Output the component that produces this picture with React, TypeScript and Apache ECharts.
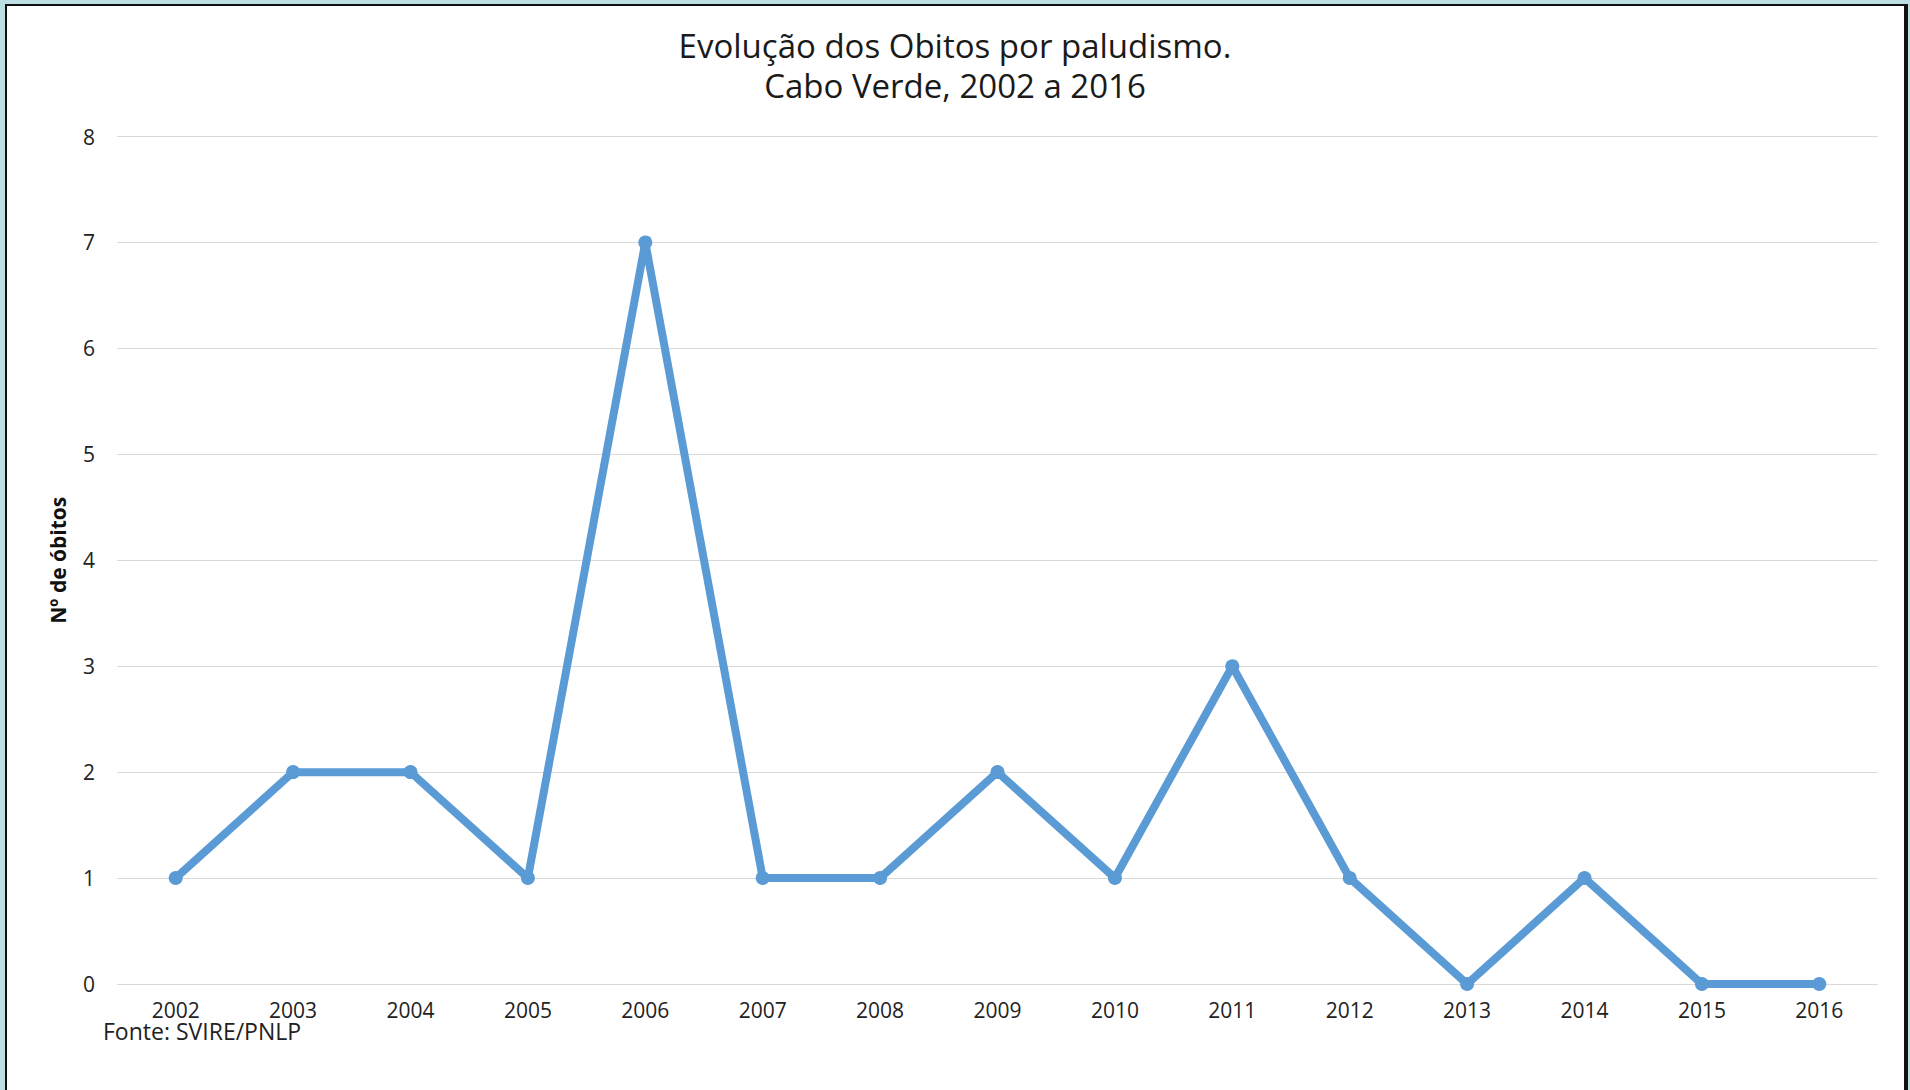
import React, { useEffect, useRef } from "react";
import * as echarts from "echarts";

// Malaria deaths in Cabo Verde, 2002–2016
const years = ["2002", "2003", "2004", "2005", "2006", "2007", "2008", "2009", "2010", "2011", "2012", "2013", "2014", "2015", "2016"];
const deaths = [1, 2, 2, 1, 7, 1, 1, 2, 1, 3, 1, 0, 1, 0, 0];

const titleLines = ["Evolução dos Obitos por paludismo.", "Cabo Verde, 2002 a 2016"];
const yAxisName = "Nº de óbitos";
const sourceNote = "Fonte: SVIRE/PNLP";

const FONT = "'Open Sans', 'Liberation Sans', sans-serif";

export default function App() {
  const ref = useRef<HTMLDivElement>(null);

  useEffect(() => {
    document.body.style.margin = "0";
    if (!ref.current) return;
    const chart = echarts.init(ref.current, undefined, { renderer: "svg" });
    chart.setOption({
      animation: false,
      backgroundColor: "transparent",
      textStyle: { fontFamily: FONT },
      title: {
        text: titleLines.join("\n"),
        left: "center",
        top: 20,
        textStyle: { fontFamily: FONT, fontSize: 33, lineHeight: 40, fontWeight: "normal", color: "#1a1a1a" },
      },
      grid: { left: 117, right: 32, top: 136.5, bottom: 106 },
      xAxis: {
        type: "category",
        data: years,
        boundaryGap: true,
        axisLine: { show: false },
        axisTick: { show: false },
        axisLabel: { fontFamily: FONT, fontSize: 21, color: "#222", margin: 15 },
      },
      yAxis: {
        type: "value",
        min: 0,
        max: 8,
        interval: 1,
        name: yAxisName,
        nameLocation: "middle",
        nameRotate: 90,
        nameGap: 49,
        nameTextStyle: { fontFamily: FONT, fontSize: 21, fontWeight: "bold", color: "#111" },
        axisLine: { show: false },
        axisTick: { show: false },
        axisLabel: { fontFamily: FONT, fontSize: 21, color: "#222", margin: 22 },
        splitLine: { lineStyle: { color: "#d9d9d9", width: 1 } },
      },
      series: [
        {
          type: "line",
          data: deaths,
          symbol: "circle",
          symbolSize: 14,
          lineStyle: { color: "#5b9bd5", width: 8 },
          itemStyle: { color: "#5b9bd5" },
        },
      ],
      graphic: [
        {
          type: "text",
          x: 103,
          y: 1031,
          style: { text: sourceNote, fontFamily: FONT, fontSize: 23, fill: "#222", verticalAlign: "middle" },
        },
      ],
    });
    return () => chart.dispose();
  }, []);

  return (
    <div style={{ position: "fixed", left: 0, top: 0, width: 1910, height: 1090, background: "#bcdfe3", overflow: "hidden" }}>
      <div
        style={{
          position: "absolute",
          left: 5,
          top: 4,
          width: 1897,
          height: 1100,
          background: "#fff",
          border: "2px solid #111",
          borderRight: "4px solid #111",
        }}
      />
      <div ref={ref} style={{ position: "absolute", left: 0, top: 0, width: 1910, height: 1090 }} />
    </div>
  );
}
